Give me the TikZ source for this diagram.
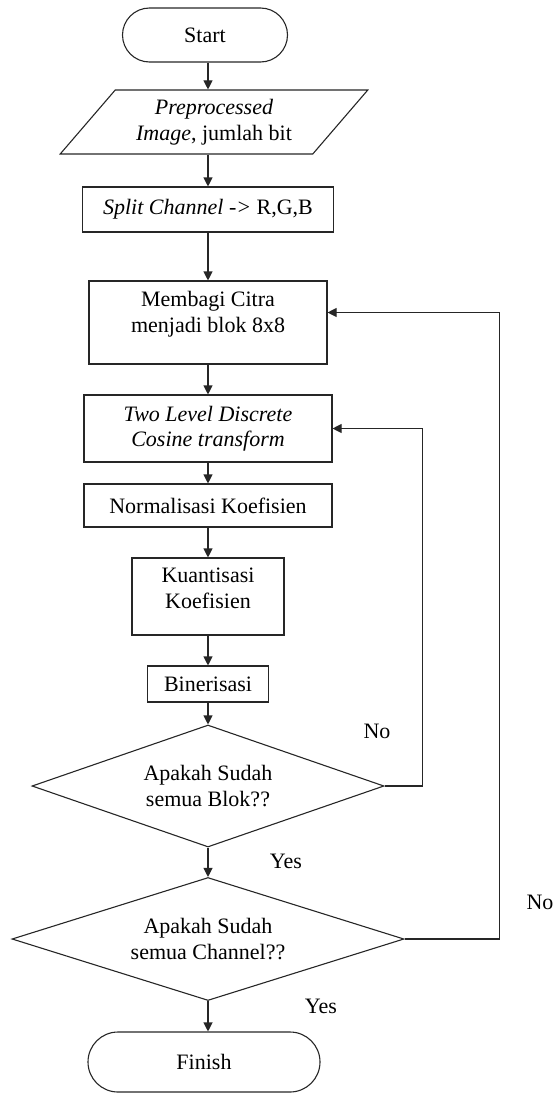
\documentclass[tikz,border=0pt]{standalone}
\usepackage{fontspec}
\setmainfont{Liberation Serif}
\usetikzlibrary{positioning, arrows.meta, shapes.geometric}

\begin{document}
\begin{tikzpicture}[x=1pt, y=-1pt,
        font=\fontsize{22}{25.5}\selectfont,
        block/.style={rectangle, draw=black!85, line width=1.1pt, align=center, inner sep=2pt},
        terminal/.style={block, rounded corners=27pt},
        io/.style={trapezium, trapezium left angle=48, trapezium right angle=132, trapezium stretches=true, draw=black!85, line width=1.1pt, align=center, inner sep=2pt},
        decision/.style={diamond, draw=black!85, line width=1.1pt, align=center, inner sep=1pt},
        arrow/.style={-{Triangle[length=9pt, width=9pt]}, line width=1.1pt, black!85},
        lbl/.style={inner sep=0pt}
    ]
        \useasboundingbox (0,0) rectangle (552,1095);

        % Start and input
        \node[terminal, minimum width=165pt, minimum height=54pt] (start) at (205,35) {Start};
        \node[io, minimum width=308pt, minimum height=64pt] (input) at (214,122) {\textit{Preprocessed}\\\textit{Image}, jumlah bit};

        % Processing steps
        \node[block, minimum width=251pt, minimum height=45pt] (split) at (208,209.5) {\textit{Split Channel ->} R,G,B};
        \node[block, minimum width=238pt, minimum height=83pt, text depth=21pt] (membagi) at (208,322.5) {Membagi Citra\\menjadi blok 8x8};
        \node[block, minimum width=248pt, minimum height=67pt] (dct) at (208,428.5) {\textit{Two Level Discrete}\\\textit{Cosine transform}};
        \node[block, minimum width=248pt, minimum height=43pt] (norm) at (208,505.5) {Normalisasi Koefisien};
        \node[block, minimum width=152pt, minimum height=77pt, text depth=17pt] (kuant) at (208,596.5) {Kuantisasi\\Koefisien};
        \node[block, minimum width=121pt, minimum height=36pt] (biner) at (208,684) {Binerisasi};

        % Decisions
        \node[decision, minimum width=352pt, minimum height=122pt, aspect=2.9] (blok) at (208,786) {Apakah Sudah\\semua Blok??};
        \node[decision, minimum width=392pt, minimum height=123pt, aspect=3.2] (channel) at (208,939) {Apakah Sudah\\semua Channel??};

        % End
        \node[terminal, minimum width=232pt, minimum height=60pt, rounded corners=30pt] (finish) at (204,1062) {Finish};

        % Main flow
        \draw[arrow] (start.south -| split) -- (split |- input.north);
        \draw[arrow] (split |- input.south) -- (split);
        \draw[arrow] (split) -- (membagi);
        \draw[arrow] (membagi) -- (dct);
        \draw[arrow] (dct) -- (norm);
        \draw[arrow] (norm) -- (kuant);
        \draw[arrow] (kuant) -- (biner);
        \draw[arrow] (biner) -- (blok);
        \draw[arrow] (blok) -- (channel);
        \draw[arrow] (channel.south) -- (channel |- finish.north);

        % Loops back
        \draw[arrow] (blok.east) -- ++(38,0) |- (dct.east);
        \draw[arrow] (channel.east) -- ++(95,0) |- ([yshift=10pt]membagi.east);

        % Branch labels
        \node[lbl] (no1) at (377,731) {No};
        \node[lbl] (yes1) at (286,861) {Yes};
        \node[lbl] (no2) at (540,902) {No};
        \node[lbl] (yes2) at (321,1006) {Yes};
    \end{tikzpicture}
\end{document}
